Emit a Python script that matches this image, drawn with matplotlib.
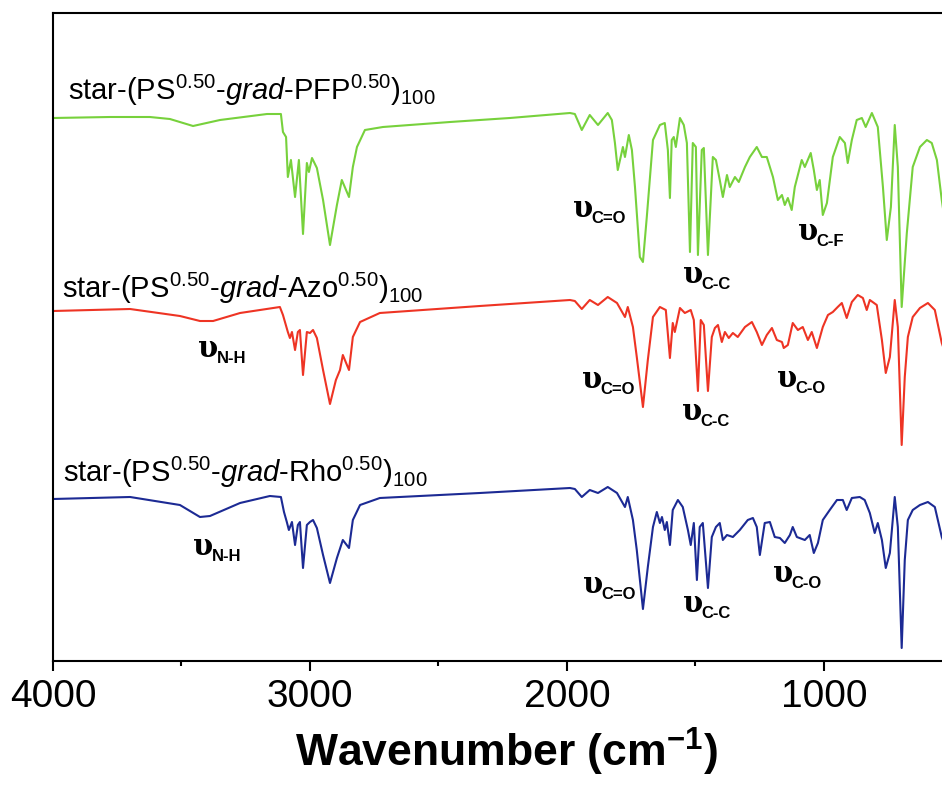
import numpy as np
import matplotlib
matplotlib.use('Agg')
import matplotlib.pyplot as plt
from matplotlib import font_manager
from matplotlib.ticker import MultipleLocator

# font setup
def have_font(name):
    try:
        font_manager.findfont(name, fallback_to_default=False)
        return True
    except Exception:
        return False

narrow = 'Liberation Sans Narrow' if have_font('Liberation Sans Narrow') else 'Liberation Sans'
plt.rcParams['font.family'] = ['Liberation Sans', 'DejaVu Sans']
plt.rcParams['mathtext.fontset'] = 'custom'
plt.rcParams['mathtext.rm'] = 'Liberation Sans'
plt.rcParams['mathtext.it'] = 'Liberation Sans:italic'
plt.rcParams['mathtext.bf'] = 'Liberation Sans:bold'

# spectra (wavenumber cm-1, offset transmittance a.u.)
wn_pfp = [4000, 3778, 3623, 3545, 3455, 3350, 3167, 3113, 3105, 3093, 3086, 3074, 3058, 3043,
          3027, 3012, 3004, 2992, 2973, 2949, 2922, 2895, 2876, 2848, 2833, 2817, 2786, 2716,
          2455, 2339, 2222, 1988, 1969, 1942, 1911, 1879, 1841, 1825, 1813, 1802, 1782, 1774,
          1759, 1747, 1735, 1716, 1704, 1689, 1665, 1638, 1619, 1607, 1599, 1592, 1584, 1576,
          1560, 1545, 1533, 1521, 1510, 1498, 1490, 1475, 1467, 1451, 1432, 1420, 1405, 1393,
          1377, 1366, 1346, 1331, 1307, 1288, 1261, 1241, 1222, 1198, 1179, 1163, 1152, 1140,
          1125, 1113, 1086, 1074, 1051, 1039, 1027, 1016, 1004, 988, 965, 938, 918, 907, 891,
          872, 852, 837, 813, 790, 770, 755, 739, 724, 712, 697, 677, 654, 626, 599, 580, 560,
          541, 529]
t_pfp = [543, 544, 544, 542, 535, 541, 547, 547, 529, 524, 484, 501, 464, 501,
         427, 498, 489, 503, 493, 461, 416, 456, 481, 464, 494, 514, 531, 534,
         539, 541, 543, 548, 547, 531, 546, 536, 548, 541, 518, 491, 514, 504,
         526, 511, 474, 404, 399, 444, 521, 536, 538, 511, 463, 521, 524, 514,
         543, 536, 518, 409, 518, 514, 406, 511, 513, 406, 504, 501, 481, 464,
         486, 474, 484, 479, 494, 504, 514, 504, 504, 484, 461, 466, 456, 463,
         451, 474, 501, 494, 508, 491, 471, 481, 446, 458, 504, 524, 518, 498, 521,
         541, 543, 534, 548, 534, 474, 421, 454, 536, 494, 354, 428, 494, 514, 521, 518, 501,
         461, 440]

wn_azo = [4000, 3700, 3506, 3428, 3377, 3272, 3117, 3105, 3086, 3078, 3070, 3058, 3047, 3039,
          3027, 3012, 3000, 2988, 2973, 2949, 2922, 2899, 2883, 2872, 2848, 2833, 2805, 2728,
          2339, 1988, 1969, 1942, 1911, 1879, 1841, 1805, 1774, 1763, 1743, 1728, 1704, 1685,
          1665, 1638, 1615, 1599, 1588, 1580, 1560, 1541, 1518, 1506, 1490, 1479, 1467, 1451,
          1436, 1424, 1412, 1397, 1385, 1370, 1354, 1335, 1307, 1280, 1261, 1241, 1222, 1202,
          1183, 1163, 1156, 1140, 1121, 1101, 1082, 1062, 1047, 1027, 1004, 984, 965, 946, 930,
          911, 891, 868, 848, 833, 821, 794, 774, 759, 743, 724, 712, 697, 685, 673, 654, 626,
          595, 568, 541, 529]
t_azo = [350, 352, 345, 340, 340, 348, 354, 346, 329, 323, 329, 311, 329, 331,
         286, 329, 328, 331, 323, 291, 257, 281, 291, 306, 291, 324, 339, 348,
         355, 361, 360, 352, 361, 356, 364, 358, 344, 354, 334, 304, 254, 301,
         344, 354, 351, 303, 338, 329, 353, 348, 351, 341, 270, 341, 336, 270,
         324, 333, 336, 319, 329, 323, 328, 324, 334, 339, 329, 316, 326, 333,
         321, 319, 313, 316, 338, 331, 334, 321, 329, 313, 334, 346, 349, 354, 358,
         343, 359, 366, 363, 351, 361, 356, 321, 288, 304, 361, 334, 216, 284, 324, 344, 353,
         358, 351, 318, 309]

wn_rho = [4000, 3700, 3506, 3428, 3389, 3272, 3156, 3113, 3101, 3090, 3082, 3070, 3058, 3047,
          3039, 3027, 3012, 3000, 2988, 2973, 2949, 2922, 2895, 2872, 2848, 2833, 2805, 2728,
          2339, 1988, 1969, 1942, 1911, 1879, 1841, 1805, 1774, 1763, 1743, 1728, 1704, 1685,
          1665, 1650, 1638, 1630, 1619, 1611, 1599, 1588, 1568, 1549, 1529, 1518, 1506, 1494,
          1483, 1471, 1451, 1436, 1420, 1405, 1393, 1377, 1354, 1327, 1296, 1276, 1261, 1249,
          1230, 1210, 1191, 1171, 1152, 1132, 1121, 1105, 1074, 1055, 1039, 1023, 1004, 977,
          949, 926, 911, 891, 860, 841, 821, 802, 790, 774, 759, 743, 724, 712, 697, 685, 673,
          654, 626, 595, 568, 541, 529]
t_rho = [162, 164, 156, 144, 145, 158, 165, 164, 149, 139, 131, 139, 116, 136,
         139, 93, 136, 139, 141, 133, 106, 78, 103, 121, 113, 141, 156, 163,
         168, 173, 172, 164, 171, 168, 174, 168, 154, 164, 141, 111, 52, 94,
         134, 149, 138, 144, 131, 139, 116, 151, 161, 154, 131, 116, 138, 81,
         134, 138, 73, 124, 134, 138, 121, 126, 124, 131, 141, 143, 134, 106,
         138, 139, 124, 123, 118, 126, 134, 124, 121, 126, 108, 118, 141, 151,
         161, 161, 151, 163, 164, 161, 148, 128, 138, 121, 93, 108, 164, 134, 13, 101, 141,
         151, 156, 159, 154, 124, 116]

# sample names and band labels
names = ['star-(PS$^{0.50}$-$\\mathit{grad}$-PFP$^{0.50}$)$_{100}$',
         'star-(PS$^{0.50}$-$\\mathit{grad}$-Azo$^{0.50}$)$_{100}$',
         'star-(PS$^{0.50}$-$\\mathit{grad}$-Rho$^{0.50}$)$_{100}$']
name_pos = [(3942, 561), (3965, 363), (3961, 179)]
band_text = ['C=O', 'C-C', 'C-F', 'N-H', 'C=O', 'C-C', 'C-O', 'N-H', 'C=O', 'C-C', 'C-O']
band_wn = [1977, 1549, 1101, 3436, 1942, 1553, 1183, 3455, 1938, 1549, 1198]
band_t = [444, 378, 421, 304, 273, 241, 274, 106, 68, 49, 79]

colors = ['#77d13c', '#ee3424', '#1c2a94']

fig = plt.figure(figsize=(9.42, 7.87), dpi=100)
ax = fig.add_axes([53/942, 126/787, 925/942, 648/787])

for wn, t, c in zip([wn_pfp, wn_azo, wn_rho], [t_pfp, t_azo, t_rho], colors):
    ax.plot(wn, t, color=c, lw=1.5)

for s, (x, y) in zip(names, name_pos):
    ax.text(x, y, s, fontsize=21, ha='left', va='baseline')

for s, x, y in zip(band_text, band_wn, band_t):
    ax.text(x, y, '\u03c5', fontsize=21, fontweight='bold', family='DejaVu Serif',
            ha='left', va='baseline')
    ax.annotate(s, xy=(x, y), xytext=(13.5, -4.5), textcoords='offset points',
                fontsize=12, fontweight='bold', ha='left', va='baseline')

ax.set_xlim(4000, 400)
ax.set_ylim(0, 648)
ax.set_yticks([])
ax.xaxis.set_major_locator(MultipleLocator(1000))
ax.xaxis.set_minor_locator(MultipleLocator(500))
ax.tick_params(axis='x', which='major', direction='out', length=7, width=1.5, pad=6)
ax.tick_params(axis='x', which='minor', direction='out', length=3.5, width=1.5)
for lab in ax.get_xticklabels():
    lab.set_fontfamily(narrow)
    lab.set_fontsize(28)
for sp in ax.spines.values():
    sp.set_linewidth(1.5)
ax.set_xlabel('Wavenumber (cm$^{\\mathbf{-1}}$)', fontsize=32, fontweight='bold',
              family=narrow, labelpad=8)
ax.xaxis.label.set_x(0.49)

fig.savefig('out.png', dpi=100)
